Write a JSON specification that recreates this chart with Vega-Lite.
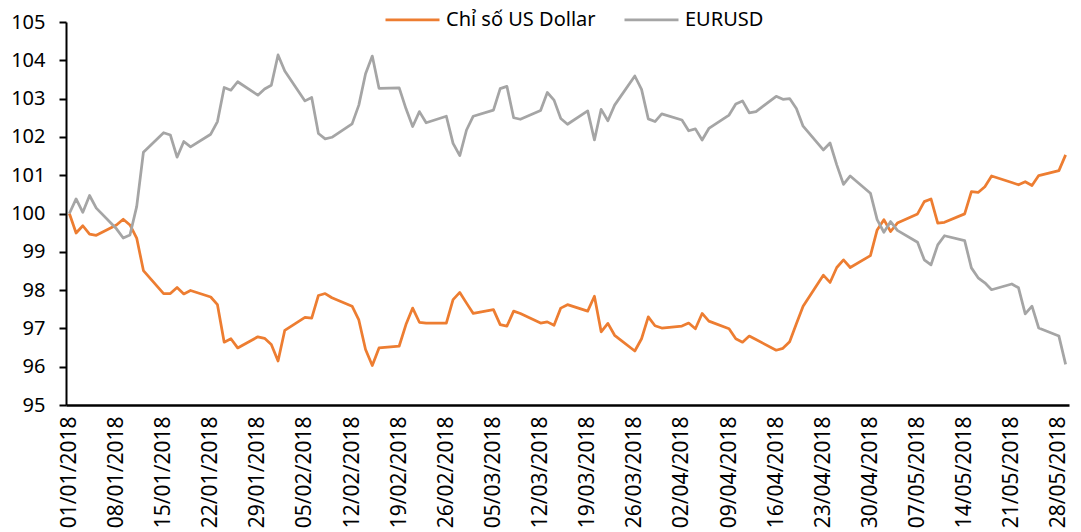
{
  "$schema": "https://vega.github.io/schema/vega-lite/v6.json",
  "width": 1003,
  "height": 383,
  "autosize": {"type": "none"},
  "padding": {"left": 66, "top": 22, "right": 12, "bottom": 127},
  "background": "white",
  "config": {"view": {"stroke": null}, "font": "Noto Sans"},
  "data": {"values": [
    {"date":"2018-01-01","usd":100,"eur":100},
    {"date":"2018-01-02","usd":99.49,"eur":100.38},
    {"date":"2018-01-03","usd":99.68,"eur":100.03},
    {"date":"2018-01-04","usd":99.46,"eur":100.47},
    {"date":"2018-01-05","usd":99.43,"eur":100.14},
    {"date":"2018-01-08","usd":99.70,"eur":99.60},
    {"date":"2018-01-09","usd":99.85,"eur":99.36},
    {"date":"2018-01-10","usd":99.70,"eur":99.44},
    {"date":"2018-01-11","usd":99.36,"eur":100.18},
    {"date":"2018-01-12","usd":98.51,"eur":101.60},
    {"date":"2018-01-15","usd":97.91,"eur":102.11},
    {"date":"2018-01-16","usd":97.91,"eur":102.05},
    {"date":"2018-01-17","usd":98.07,"eur":101.47},
    {"date":"2018-01-18","usd":97.90,"eur":101.88},
    {"date":"2018-01-19","usd":97.99,"eur":101.74},
    {"date":"2018-01-22","usd":97.82,"eur":102.07},
    {"date":"2018-01-23","usd":97.62,"eur":102.40},
    {"date":"2018-01-24","usd":96.64,"eur":103.29},
    {"date":"2018-01-25","usd":96.73,"eur":103.22},
    {"date":"2018-01-26","usd":96.49,"eur":103.44},
    {"date":"2018-01-29","usd":96.78,"eur":103.09},
    {"date":"2018-01-30","usd":96.74,"eur":103.25},
    {"date":"2018-01-31","usd":96.58,"eur":103.35},
    {"date":"2018-02-01","usd":96.15,"eur":104.14},
    {"date":"2018-02-02","usd":96.95,"eur":103.72},
    {"date":"2018-02-05","usd":97.29,"eur":102.94},
    {"date":"2018-02-06","usd":97.27,"eur":103.03},
    {"date":"2018-02-07","usd":97.86,"eur":102.09},
    {"date":"2018-02-08","usd":97.91,"eur":101.95},
    {"date":"2018-02-09","usd":97.80,"eur":101.99},
    {"date":"2018-02-12","usd":97.58,"eur":102.34},
    {"date":"2018-02-13","usd":97.22,"eur":102.83},
    {"date":"2018-02-14","usd":96.45,"eur":103.65},
    {"date":"2018-02-15","usd":96.03,"eur":104.11},
    {"date":"2018-02-16","usd":96.49,"eur":103.27},
    {"date":"2018-02-19","usd":96.54,"eur":103.28},
    {"date":"2018-02-20","usd":97.10,"eur":102.74},
    {"date":"2018-02-21","usd":97.53,"eur":102.27},
    {"date":"2018-02-22","usd":97.16,"eur":102.66},
    {"date":"2018-02-23","usd":97.14,"eur":102.37},
    {"date":"2018-02-26","usd":97.14,"eur":102.54},
    {"date":"2018-02-27","usd":97.75,"eur":101.83},
    {"date":"2018-02-28","usd":97.94,"eur":101.51},
    {"date":"2018-03-01","usd":97.66,"eur":102.18},
    {"date":"2018-03-02","usd":97.39,"eur":102.54},
    {"date":"2018-03-05","usd":97.49,"eur":102.70},
    {"date":"2018-03-06","usd":97.10,"eur":103.26},
    {"date":"2018-03-07","usd":97.06,"eur":103.32},
    {"date":"2018-03-08","usd":97.45,"eur":102.50},
    {"date":"2018-03-09","usd":97.39,"eur":102.46},
    {"date":"2018-03-12","usd":97.14,"eur":102.69},
    {"date":"2018-03-13","usd":97.17,"eur":103.16},
    {"date":"2018-03-14","usd":97.08,"eur":102.96},
    {"date":"2018-03-15","usd":97.53,"eur":102.48},
    {"date":"2018-03-16","usd":97.62,"eur":102.33},
    {"date":"2018-03-19","usd":97.45,"eur":102.68},
    {"date":"2018-03-20","usd":97.84,"eur":101.92},
    {"date":"2018-03-21","usd":96.91,"eur":102.72},
    {"date":"2018-03-22","usd":97.13,"eur":102.42},
    {"date":"2018-03-23","usd":96.82,"eur":102.83},
    {"date":"2018-03-26","usd":96.41,"eur":103.59},
    {"date":"2018-03-27","usd":96.73,"eur":103.24},
    {"date":"2018-03-28","usd":97.30,"eur":102.47},
    {"date":"2018-03-29","usd":97.07,"eur":102.40},
    {"date":"2018-03-30","usd":97.01,"eur":102.60},
    {"date":"2018-04-02","usd":97.06,"eur":102.44},
    {"date":"2018-04-03","usd":97.14,"eur":102.16},
    {"date":"2018-04-04","usd":96.99,"eur":102.21},
    {"date":"2018-04-05","usd":97.39,"eur":101.92},
    {"date":"2018-04-06","usd":97.19,"eur":102.22},
    {"date":"2018-04-09","usd":96.99,"eur":102.57},
    {"date":"2018-04-10","usd":96.73,"eur":102.86},
    {"date":"2018-04-11","usd":96.64,"eur":102.94},
    {"date":"2018-04-12","usd":96.80,"eur":102.63},
    {"date":"2018-04-13","usd":96.71,"eur":102.66},
    {"date":"2018-04-16","usd":96.43,"eur":103.06},
    {"date":"2018-04-17","usd":96.48,"eur":102.98},
    {"date":"2018-04-18","usd":96.65,"eur":103.00},
    {"date":"2018-04-19","usd":97.12,"eur":102.74},
    {"date":"2018-04-20","usd":97.58,"eur":102.28},
    {"date":"2018-04-23","usd":98.39,"eur":101.66},
    {"date":"2018-04-24","usd":98.20,"eur":101.84},
    {"date":"2018-04-25","usd":98.59,"eur":101.27},
    {"date":"2018-04-26","usd":98.79,"eur":100.76},
    {"date":"2018-04-27","usd":98.59,"eur":100.98},
    {"date":"2018-04-30","usd":98.90,"eur":100.53},
    {"date":"2018-05-01","usd":99.57,"eur":99.84},
    {"date":"2018-05-02","usd":99.84,"eur":99.51},
    {"date":"2018-05-03","usd":99.53,"eur":99.79},
    {"date":"2018-05-04","usd":99.75,"eur":99.56},
    {"date":"2018-05-07","usd":99.99,"eur":99.25},
    {"date":"2018-05-08","usd":100.31,"eur":98.79},
    {"date":"2018-05-09","usd":100.38,"eur":98.66},
    {"date":"2018-05-10","usd":99.75,"eur":99.18},
    {"date":"2018-05-11","usd":99.77,"eur":99.42},
    {"date":"2018-05-14","usd":99.99,"eur":99.29},
    {"date":"2018-05-15","usd":100.57,"eur":98.58},
    {"date":"2018-05-16","usd":100.55,"eur":98.32},
    {"date":"2018-05-17","usd":100.70,"eur":98.19},
    {"date":"2018-05-18","usd":100.98,"eur":98.01},
    {"date":"2018-05-21","usd":100.81,"eur":98.16},
    {"date":"2018-05-22","usd":100.75,"eur":98.06},
    {"date":"2018-05-23","usd":100.83,"eur":97.38},
    {"date":"2018-05-24","usd":100.73,"eur":97.58},
    {"date":"2018-05-25","usd":100.99,"eur":97.01},
    {"date":"2018-05-28","usd":101.12,"eur":96.80},
    {"date":"2018-05-29","usd":101.53,"eur":96.06}
  ]},
  "transform": [{"fold": ["usd", "eur"], "as": ["series", "value"]}],
  "mark": {"type": "line", "strokeWidth": 2.75, "strokeJoin": "round"},
  "encoding": {
    "x": {
      "field": "date", "type": "temporal",
      "scale": {"type": "utc", "domain": [
        {"year": 2017, "month": 12, "date": 31, "hours": 12, "utc": true},
        {"year": 2018, "month": 5, "date": 29, "hours": 12, "utc": true}
      ]},
      "axis": {
        "title": null,
        "labelExpr": "utcFormat(datum.value, '%d/%m/%Y')",
        "labelAngle": 270,
        "labelAlign": "right",
        "labelBaseline": "middle",
        "labelPadding": 11,
        "labelFontSize": 21,
        "labelColor": "#000000",
        "labelFont": "Noto Sans",
        "labelOverlap": false,
        "labelFlush": false,
        "ticks": false,
        "grid": false,
        "domainColor": "#000000",
        "domainWidth": 2.5,
        "values": [
          {"year": 2018, "month": 1, "date": 1, "utc": true},
          {"year": 2018, "month": 1, "date": 8, "utc": true},
          {"year": 2018, "month": 1, "date": 15, "utc": true},
          {"year": 2018, "month": 1, "date": 22, "utc": true},
          {"year": 2018, "month": 1, "date": 29, "utc": true},
          {"year": 2018, "month": 2, "date": 5, "utc": true},
          {"year": 2018, "month": 2, "date": 12, "utc": true},
          {"year": 2018, "month": 2, "date": 19, "utc": true},
          {"year": 2018, "month": 2, "date": 26, "utc": true},
          {"year": 2018, "month": 3, "date": 5, "utc": true},
          {"year": 2018, "month": 3, "date": 12, "utc": true},
          {"year": 2018, "month": 3, "date": 19, "utc": true},
          {"year": 2018, "month": 3, "date": 26, "utc": true},
          {"year": 2018, "month": 4, "date": 2, "utc": true},
          {"year": 2018, "month": 4, "date": 9, "utc": true},
          {"year": 2018, "month": 4, "date": 16, "utc": true},
          {"year": 2018, "month": 4, "date": 23, "utc": true},
          {"year": 2018, "month": 4, "date": 30, "utc": true},
          {"year": 2018, "month": 5, "date": 7, "utc": true},
          {"year": 2018, "month": 5, "date": 14, "utc": true},
          {"year": 2018, "month": 5, "date": 21, "utc": true},
          {"year": 2018, "month": 5, "date": 28, "utc": true}
        ]
      }
    },
    "y": {
      "field": "value", "type": "quantitative",
      "scale": {"domain": [95, 105], "zero": false, "nice": false},
      "axis": {
        "title": null,
        "values": [95, 96, 97, 98, 99, 100, 101, 102, 103, 104, 105],
        "grid": false,
        "ticks": true,
        "tickSize": 7,
        "tickWidth": 2,
        "tickColor": "#000000",
        "domainColor": "#000000",
        "domainWidth": 2,
        "labelPadding": 14,
        "labelFontSize": 20,
        "labelColor": "#000000",
        "labelFont": "Noto Sans"
      }
    },
    "color": {
      "field": "series", "type": "nominal",
      "scale": {"domain": ["usd", "eur"], "range": ["#ED7D31", "#A5A5A5"]},
      "legend": {
        "title": null,
        "orient": "none",
        "direction": "horizontal",
        "legendX": 318,
        "legendY": -31,
        "labelExpr": "datum.value == 'usd' ? 'Chỉ số US Dollar' : 'EURUSD'",
        "symbolType": "stroke",
        "symbolSize": 2916,
        "symbolStrokeWidth": 2.75,
        "labelFontSize": 20,
        "labelFont": "Noto Sans",
        "labelColor": "#000000",
        "labelOffset": 5,
        "columnPadding": 23,
        "labelLimit": 400
      }
    }
  }
}
